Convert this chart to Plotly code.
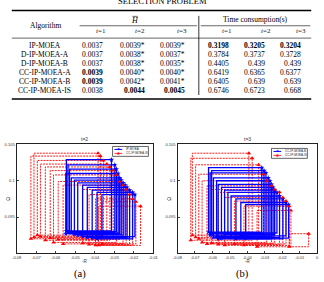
import plotly.graph_objects as go

W, H = 324, 282

# ---------------- table data ----------------
algorithms = ["IP-MOEA", "D-IP-MOEA-A", "D-IP-MOEA-B", "CC-IP-MOEA-A", "CC-IP-MOEA-B", "CC-IP-MOEA-IS"]
h_t1 = ["0.0037", "0.0037", "0.0037", "0.0039", "0.0039", "0.0038"]
h_t2 = ["0.0039*", "0.0038*", "0.0038*", "0.0040*", "0.0042*", "0.0044"]
h_t3 = ["0.0039*", "0.0037*", "0.0035*", "0.0040*", "0.0041*", "0.0045"]
time_t1 = ["0.3198", "0.3784", "0.4405", "0.6419", "0.6405", "0.6746"]
time_t2 = ["0.3205", "0.3737", "0.439", "0.6365", "0.639", "0.6723"]
time_t3 = ["0.3204", "0.3728", "0.439", "0.6377", "0.639", "0.668"]
bold_h_t1 = [False, False, False, True, True, False]
bold_h_t2 = [False, False, False, False, False, True]
bold_h_t3 = [False, False, False, False, False, True]
bold_time = [True, False, False, False, False, False]
t_labels = ["t=1", "t=2", "t=3"]

# ---------------- chart data (a) t=2 ----------------
a_blue_xl = [-0.0545, -0.0537, -0.0529, -0.0548, -0.0520, -0.0504, -0.0487, -0.0462, -0.0438, -0.0413, -0.0388, -0.0363]
a_blue_xh = [-0.0314, -0.0297, -0.0289, -0.0280, -0.0272, -0.0264, -0.0254, -0.0244, -0.0234, -0.0221, -0.0206, -0.0194]
a_blue_yl = [0.0931, 0.0929, 0.0930, 0.0927, 0.0928, 0.0926, 0.0925, 0.0923, 0.0922, 0.0921, 0.0920, 0.0923]
a_blue_yh = [0.1029, 0.1022, 0.1016, 0.1010, 0.1004, 0.1001, 0.0997, 0.0994, 0.0991, 0.0987, 0.0984, 0.0981]

a_red_xl = [-0.0711, -0.0727, -0.0694, -0.0678, -0.0653, -0.0628, -0.0611, -0.0587, -0.0562, -0.0462, -0.0429, -0.0396, -0.0363, -0.0380]
a_red_xh = [-0.0383, -0.0371, -0.0355, -0.0338, -0.0322, -0.0305, -0.0289, -0.0272, -0.0255, -0.0239, -0.0222, -0.0206, -0.0189, -0.0165]
a_red_yl = [0.0922, 0.0920, 0.0925, 0.0923, 0.0918, 0.0921, 0.0915, 0.0919, 0.0913, 0.0914, 0.0912, 0.0911, 0.0913, 0.0911]
a_red_yh = [0.1038, 0.1034, 0.1028, 0.1023, 0.1019, 0.1014, 0.1008, 0.0999, 0.0994, 0.0988, 0.0981, 0.0975, 0.0971, 0.0965]

# ---------------- chart data (b) t=3 ----------------
b_blue_xl = [-0.0622, -0.0604, -0.0613, -0.0594, -0.0576, -0.0567, -0.0548, -0.0530, -0.0511, -0.0493, -0.0465, -0.0437, -0.0409]
b_blue_xh = [-0.0317, -0.0304, -0.0293, -0.0280, -0.0270, -0.0261, -0.0252, -0.0243, -0.0230, -0.0215, -0.0196, -0.0178, -0.0163]
b_blue_yl = [0.0929, 0.0927, 0.0925, 0.0922, 0.0923, 0.0920, 0.0921, 0.0926, 0.0928, 0.0922, 0.0920, 0.0924, 0.0921]
b_blue_yh = [0.1018, 0.1014, 0.1011, 0.1004, 0.1000, 0.0995, 0.0991, 0.0987, 0.0984, 0.0979, 0.0975, 0.0970, 0.0967]

b_red_xl = [-0.0715, -0.0724, -0.0696, -0.0678, -0.0659, -0.0631, -0.0604, -0.0567, -0.0530, -0.0474, -0.0419, -0.0344, -0.0159]
b_red_xh = [-0.0391, -0.0372, -0.0335, -0.0307, -0.0289, -0.0261, -0.0243, -0.0215, -0.0196, -0.0178, -0.0159, -0.0150, -0.0048]
b_red_yl = [0.0925, 0.0918, 0.0922, 0.0920, 0.0915, 0.0913, 0.0914, 0.0912, 0.0911, 0.0913, 0.0911, 0.0909, 0.0909]
b_red_yh = [0.1038, 0.1031, 0.1022, 0.1009, 0.1000, 0.0993, 0.0988, 0.0984, 0.0977, 0.0972, 0.0965, 0.0959, 0.0927]

a_x_ticks = [-0.08, -0.07, -0.06, -0.05, -0.04, -0.03, -0.02, -0.01]
b_x_ticks = [-0.08, -0.07, -0.06, -0.05, -0.04, -0.03, -0.02, -0.01, 0]
y_ticks = [0.09, 0.095, 0.1, 0.105]
y_tick_text = ["", "0.095", "0.1", "0.105"]

legend_a = ["IP-MOEA", "CC-IP-MOEA-IS"]
legend_b = ["CC-IP-MOEA-B", "CC-IP-MOEA-IS"]

BLUE = "#0000ff"
RED = "#ff0000"
SERIF = "Liberation Serif, Times New Roman, serif"
SANS = "Liberation Sans, Arial, sans-serif"


def px(x):
    return x / W


def py(y):
    return 1 - y / H


def rect_path(xl, xh, yl, yh):
    xs, ys = [], []
    for a, b, c, d in zip(xl, xh, yl, yh):
        xs += [a, a, b, b, a, None]
        ys += [c, d, d, c, c, None]
    return xs, ys


fig = go.Figure()


def add_panel(xa, ya, bxl, bxh, byl, byh, rxl, rxh, ryl, ryh):
    rx, ry = rect_path(rxl, rxh, ryl, ryh)
    fig.add_trace(go.Scatter(x=rx, y=ry, mode="lines", xaxis=xa, yaxis=ya,
                             line=dict(color=RED, width=0.9, dash="2px,1px"),
                             showlegend=False, hoverinfo="skip"))
    bx, by = rect_path(bxl, bxh, byl, byh)
    fig.add_trace(go.Scatter(x=bx, y=by, mode="lines", xaxis=xa, yaxis=ya,
                             line=dict(color=BLUE, width=1.3),
                             showlegend=False, hoverinfo="skip"))
    fig.add_trace(go.Scatter(x=bxh + bxl, y=byh + byl, mode="markers", xaxis=xa, yaxis=ya,
                             marker=dict(symbol="star", size=4, color=BLUE),
                             showlegend=False, hoverinfo="skip"))
    fig.add_trace(go.Scatter(x=rxh + rxl, y=ryh + ryl, mode="markers", xaxis=xa, yaxis=ya,
                             marker=dict(symbol="triangle-up", size=4, color=RED),
                             showlegend=False, hoverinfo="skip"))


add_panel("x", "y", a_blue_xl, a_blue_xh, a_blue_yl, a_blue_yh, a_red_xl, a_red_xh, a_red_yl, a_red_yh)
add_panel("x2", "y2", b_blue_xl, b_blue_xh, b_blue_yl, b_blue_yh, b_red_xl, b_red_xh, b_red_yl, b_red_yh)

axis_common = dict(showline=True, mirror=True, linecolor="#222", linewidth=1.4,
                   ticks="inside", ticklen=2, tickcolor="#444", showgrid=False,
                   zeroline=False, tickfont=dict(size=4, color="#333", family=SANS))

ytop, ybot = 143, 253
fig.update_layout(
    width=W, height=H, margin=dict(l=0, r=0, t=0, b=0),
    paper_bgcolor="white", plot_bgcolor="white", showlegend=False,
    xaxis=dict(domain=[px(12), px(153)], range=[-0.08, -0.01], tickvals=a_x_ticks,
               ticktext=[f"{v:g}" for v in a_x_ticks], anchor="y", **axis_common),
    yaxis=dict(domain=[py(ybot), py(ytop)], range=[0.09, 0.105], tickvals=y_ticks,
               ticktext=y_tick_text, anchor="x", **axis_common),
    xaxis2=dict(domain=[px(178), px(322)], range=[-0.08, 0], tickvals=b_x_ticks,
                ticktext=[f"{v:g}" for v in b_x_ticks], anchor="y2", **axis_common),
    yaxis2=dict(domain=[py(ybot), py(ytop)], range=[0.09, 0.105], tickvals=y_ticks,
                ticktext=y_tick_text, anchor="x2", **axis_common),
)

ann = []
shapes = []


def text(x, y, s, size=7.5, xanchor="center", yanchor="middle", family=SERIF, color="black", angle=0):
    ann.append(dict(x=px(x), y=py(y), xref="paper", yref="paper", text=s, showarrow=False,
                    xanchor=xanchor, yanchor=yanchor, textangle=angle,
                    font=dict(size=size, family=family, color=color)))


def hline(x0, x1, y, w, color="black"):
    shapes.append(dict(type="line", xref="paper", yref="paper", x0=px(x0), x1=px(x1),
                       y0=py(y), y1=py(y), line=dict(color=color, width=w)))


def vline(x, y0, y1, w, color="black"):
    shapes.append(dict(type="line", xref="paper", yref="paper", x0=px(x), x1=px(x),
                       y0=py(y0), y1=py(y1), line=dict(color=color, width=w)))


# ---------------- table ----------------
text(162, 5, "SELECTION PROBLEM", size=8.5, yanchor="bottom")
hline(7, 316, 7.5, 1.5)
text(42, 23, "Algorithm")
text(134, 18, "<i>H</i>", size=8)
hline(131.5, 137, 13.5, 0.6)
text(258, 17, "Time consumption(s)")
hline(77, 198, 23, 0.6)
hline(202, 315, 23, 0.6)
t_centers = [99, 139, 183, 229, 269, 305]
for i, c in enumerate(t_centers):
    lab = t_labels[i % 3]
    text(c, 28.5, "<i>t</i>" + lab[1:], size=7, color="#222")
hline(7, 316, 35.5, 0.6)
vline(200, 13, 93, 0.8)
row_y = [43, 52, 61, 70, 79, 88]
cols = [(h_t1, bold_h_t1, 103), (h_t2, bold_h_t2, 147), (h_t3, bold_h_t3, 188),
        (time_t1, bold_time, 233), (time_t2, bold_time, 270), (time_t3, bold_time, 307)]
for r, yv in enumerate(row_y):
    text(41, yv, algorithms[r])
    for vals, bolds, xr in cols:
        s = vals[r]
        if bolds[r]:
            s = "<b>" + s + "</b>"
        text(xr, yv, s, xanchor="right")
hline(7, 316, 97, 1.5)

# ---------------- chart decorations ----------------
for cx, title, xl_px, cap in [(82, "t=2", 3, "(a)"), (250, "t=3", 169, "(b)")]:
    text(cx, 137, title, size=5, family=SANS, color="#333")
    text(cx, 261.5, "-R", size=4.5, family=SANS, color="#333")
    text(xl_px, 198, "Ω", size=5, family=SANS, color="#333", angle=-90)
    text(cx - 5, 274, cap, size=10.5)

# manual legends
for (bx0, by0, labels) in [(111, 145, legend_a), (275, 147, legend_b)]:
    shapes.append(dict(type="rect", xref="paper", yref="paper", x0=px(bx0), x1=px(bx0 + 37),
                       y0=py(by0), y1=py(by0 + 10), line=dict(color="#222", width=0.7),
                       fillcolor="white"))
    for k, (lab, col, sym) in enumerate(zip(labels, [BLUE, RED], ["★", "▲"])):
        yy = by0 + 3 + k * 4
        hline(bx0 + 2, bx0 + 10, yy, 1.0 if k == 0 else 0.8, col)
        text(bx0 + 6, yy, sym, size=3.5, family="DejaVu Sans", color=col)
        text(bx0 + 11.5, yy, lab, size=3, family=SANS, xanchor="left", color="#222")

fig.update_layout(annotations=ann, shapes=shapes)
fig.write_html("out.html")
